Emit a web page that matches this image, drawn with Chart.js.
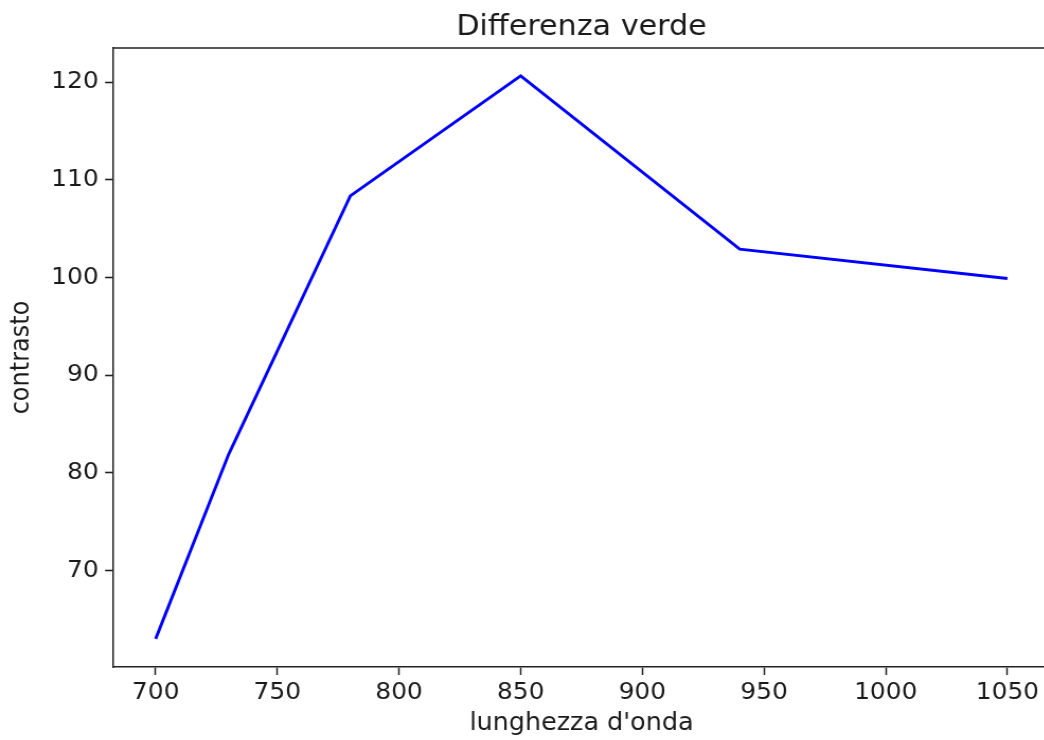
<!DOCTYPE html>
<html>
<head>
<meta charset="utf-8">
<script src="https://cdn.jsdelivr.net/npm/chart.js@4.4.0/dist/chart.umd.min.js"></script>
<style>
  html, body { margin: 0; padding: 0; background: #fff; overflow: hidden; }
  #wrap { width: 1052px; height: 740px; }
  /* drawn at 993px wide, shown a little wider */
  #curve { width: 1052px !important; height: 740px !important; display: block; }
</style>
</head>
<body>
<div id="wrap"><canvas id="curve" width="993" height="740"></canvas></div>
<script>
// wavelength (nm) vs contrast
const wavelengths = [700, 730, 780, 850, 940, 1050];
const contrast = [63.0, 81.9, 108.35, 120.65, 102.9, 99.9];

const xTicks = [700, 750, 800, 850, 900, 950, 1000, 1050];
const yTicks = [70, 80, 90, 100, 110, 120];

const points = wavelengths.map((w, i) => ({ x: w, y: contrast[i] }));

const font = 'DejaVu Sans';
const ink = '#222';
const text = '#1a1a1a';

// top and right spines (bottom/left come from the axis borders)
const frame = {
    id: 'frame',
    afterDraw(chart) {
        const a = chart.chartArea;
        const ctx = chart.ctx;
        ctx.save();
        ctx.strokeStyle = ink;
        ctx.lineWidth = 1.6;
        ctx.beginPath();
        ctx.moveTo(a.left, a.top);
        ctx.lineTo(a.right, a.top);
        ctx.lineTo(a.right, a.bottom);
        ctx.stroke();
        ctx.restore();
    }
};

new Chart(document.getElementById('curve'), {
    type: 'line',
    data: {
        datasets: [{
            data: points,
            borderColor: '#0000ff',
            borderWidth: 2.9,
            pointRadius: 0,
            tension: 0,
            fill: false
        }]
    },
    options: {
        responsive: false,
        animation: false,
        layout: { padding: { left: 0, right: 1.9, top: 0, bottom: 0 } },
        plugins: {
            legend: { display: false },
            tooltip: { enabled: false },
            title: {
                display: true,
                text: 'Differenza verde',
                fullSize: false,
                color: text,
                font: { family: font, size: 28.5, weight: 'normal', lineHeight: 1.2 },
                padding: { top: 10, bottom: 3.8 }
            }
        },
        scales: {
            x: {
                type: 'linear',
                min: 682.5,
                max: 1067.5,
                afterBuildTicks: s => { s.ticks = xTicks.map(v => ({ value: v })); },
                afterFit: s => { s.height = 73; },
                grid: { drawOnChartArea: false, drawTicks: true, tickLength: 8, tickWidth: 1.5, tickColor: ink },
                border: { display: true, color: ink, width: 1.6 },
                ticks: {
                    color: text, padding: 4, maxRotation: 0,
                    font: { family: font, size: 23.5 },
                    callback: v => String(v)
                },
                title: {
                    display: true,
                    text: "lunghezza d'onda",
                    color: text,
                    font: { family: font, size: 24, lineHeight: 1.2 },
                    padding: { top: 2, bottom: 2 }
                }
            },
            y: {
                min: 60.12,
                max: 123.5,
                afterBuildTicks: s => { s.ticks = yTicks.map(v => ({ value: v })); },
                afterFit: s => { s.width = 106.7; },
                grid: { drawOnChartArea: false, drawTicks: true, tickLength: 7.5, tickWidth: 1.6, tickColor: ink },
                border: { display: true, color: ink, width: 1.5 },
                ticks: {
                    color: text, padding: 6,
                    font: { family: font, size: 23.5 },
                    callback: v => String(v)
                },
                title: {
                    display: true,
                    text: 'contrasto',
                    color: text,
                    font: { family: font, size: 24, lineHeight: 1.2 },
                    padding: { top: 6, bottom: 6 }
                }
            }
        }
    },
    plugins: [frame]
});
</script>
</body>
</html>
